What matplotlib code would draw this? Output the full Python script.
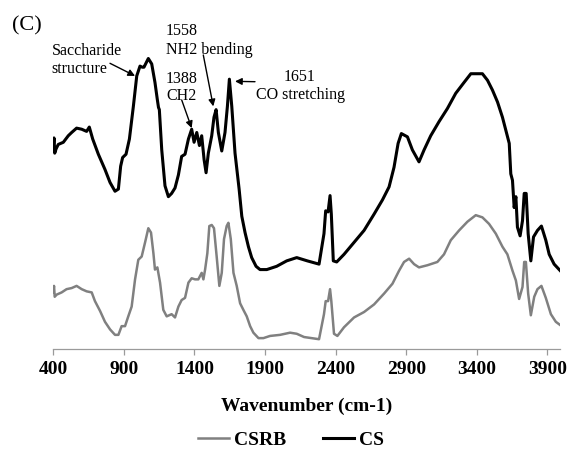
import matplotlib
matplotlib.use("Agg")
import matplotlib.pyplot as plt

plt.rcParams['font.family'] = ['Liberation Serif', 'DejaVu Serif']

# FTIR spectra (wavenumber in cm-1, intensity in arbitrary units)
cs_wn = [400, 405, 410, 420, 435, 471, 506, 530, 565, 601,
         636, 655, 679, 719, 766, 802, 837, 861, 877, 891,
         915, 939, 967, 991, 1014, 1030, 1042, 1073, 1097, 1120,
         1137, 1145, 1151, 1168, 1191, 1215, 1238, 1262, 1286, 1309,
         1333, 1357, 1380, 1397, 1416, 1435, 1451, 1468, 1482, 1498,
         1522, 1538, 1553, 1569, 1593, 1616, 1633, 1647, 1664, 1687,
         1716, 1735, 1758, 1782, 1805, 1836, 1864, 1912, 1982, 2053,
         2124, 2199, 2282, 2317, 2329, 2346, 2360, 2369, 2383, 2407,
         2459, 2530, 2601, 2672, 2731, 2778, 2813, 2842, 2865, 2908,
         2943, 2990, 3026, 3073, 3132, 3191, 3250, 3309, 3357, 3439,
         3475, 3510, 3546, 3581, 3605, 3629, 3640, 3652, 3664, 3676,
         3687, 3706, 3723, 3735, 3749, 3763, 3782, 3801, 3829, 3857,
         3888, 3912, 3947, 3990]
cs_t = [186, 194, 180, 184, 188, 190, 196, 199, 203, 202,
        200, 204, 193, 179, 165, 153, 145, 147, 168, 176,
        179, 193, 223, 251, 260, 259, 259, 267, 262, 245,
        229, 222, 220, 183, 150, 140, 143, 148, 160, 177,
        179, 193, 202, 190, 199, 187, 196, 174, 162, 180,
        196, 213, 220, 199, 182, 199, 223, 248, 223, 180,
        147, 122, 107, 94, 84, 76, 73, 73, 76, 81,
        84, 81, 78, 106, 127, 126, 141, 124, 81, 80,
        87, 98, 109, 124, 137, 149, 167, 189, 198, 195,
        183, 172, 183, 196, 209, 221, 235, 245, 253, 253,
        247, 238, 227, 213, 201, 189, 161, 155, 130, 140,
        112, 104, 118, 143, 143, 106, 81, 103, 109, 113,
        100, 87, 78, 72]

csrb_wn = [400, 405, 410, 424, 459, 494, 530, 565, 601, 636,
           672, 695, 731, 766, 802, 837, 861, 884, 908, 931,
           955, 979, 1002, 1026, 1050, 1073, 1092, 1109, 1120, 1137,
           1156, 1179, 1203, 1238, 1262, 1286, 1309, 1333, 1357, 1380,
           1404, 1427, 1451, 1463, 1475, 1491, 1505, 1522, 1538, 1557,
           1576, 1593, 1609, 1628, 1640, 1657, 1676, 1699, 1723, 1746,
           1770, 1794, 1817, 1853, 1888, 1935, 2006, 2077, 2124, 2176,
           2282, 2317, 2329, 2346, 2360, 2369, 2388, 2412, 2459, 2530,
           2601, 2672, 2743, 2802, 2849, 2884, 2920, 2955, 2990, 3050,
           3120, 3167, 3215, 3274, 3333, 3392, 3439, 3486, 3534, 3581,
           3616, 3652, 3676, 3699, 3723, 3735, 3747, 3763, 3782, 3806,
           3829, 3857, 3888, 3924, 3959, 3990]
csrb_t = [52, 58, 48, 50, 52, 55, 56, 58, 55, 53,
          52, 44, 35, 25, 18, 13, 13, 21, 21, 30,
          39, 64, 82, 85, 98, 111, 107, 88, 73, 75,
          61, 36, 30, 32, 29, 39, 45, 47, 61, 65,
          64, 64, 70, 64, 73, 88, 113, 114, 111, 85,
          58, 70, 101, 113, 116, 101, 70, 58, 42, 36,
          30, 21, 15, 10, 10, 12, 13, 15, 14, 11,
          9, 32, 44, 44, 55, 44, 14, 12, 20, 29,
          34, 41, 51, 60, 72, 80, 83, 78, 75, 77,
          80, 87, 100, 109, 117, 123, 121, 115, 106, 94,
          87, 72, 63, 46, 57, 80, 80, 51, 31, 48,
          55, 58, 47, 32, 25, 22]

xticks = [400, 900, 1400, 1900, 2400, 2900, 3400, 3900]

W, H = 569, 449


def fig_xy(x, y):
    # pixel position (from top-left) -> figure fraction
    return x / W, 1 - y / H


fig = plt.figure(figsize=(W / 100, H / 100), dpi=100)
ax = fig.add_axes([53.3 / W, (H - 349) / H, (559.5 - 53.3) / W, 309 / H])

ax.plot(csrb_wn, csrb_t, color='#808080', lw=1.8, label='CSRB')
ax.plot(cs_wn, cs_t, color='black', lw=2.2, label='CS')

ax.set_xlim(400, 3985)
ax.set_ylim(0, 284)
ax.set_xticks(xticks)
ax.set_yticks([])
for side in ['left', 'right', 'top']:
    ax.spines[side].set_visible(False)
ax.spines['bottom'].set_color('#9a9a9a')
ax.spines['bottom'].set_linewidth(0.9)
ax.tick_params(axis='x', direction='out', length=4, width=0.9, color='#9a9a9a',
               pad=5, labelsize=14)
for lab in ax.get_xticklabels():
    lab.set_fontweight('bold')
ax.set_xlabel('Wavenumber (cm-1)', fontsize=14, fontweight='bold', labelpad=14)

# peak annotations
ann = dict(fontsize=11.5, va='baseline')
fig.text(*fig_xy(12, 30), '(C)', fontsize=16, va='baseline')
fig.text(*fig_xy(51.7, 55), 'Saccharide', ha='left', **ann)
fig.text(*fig_xy(51.7, 73), 'structure', ha='left', **ann)
fig.text(*fig_xy(166, 35), '1558', ha='left', **ann)
fig.text(*fig_xy(166, 54), 'NH2 bending', ha='left', **ann)
fig.text(*fig_xy(166, 83), '1388', ha='left', **ann)
fig.text(*fig_xy(166, 100.5), 'CH2', ha='left', **ann)
fig.text(*fig_xy(300, 81), '1651', ha='center', **ann)
fig.text(*fig_xy(300, 99), 'CO stretching', ha='center', **ann)

arrow = dict(arrowstyle='-|>', color='black', lw=1.0, mutation_scale=10,
             shrinkA=0, shrinkB=0)
ax.annotate('', xy=(979, 251), xytext=fig_xy(110, 63.3),
            textcoords='figure fraction', arrowprops=arrow)
ax.annotate('', xy=(1533, 223), xytext=fig_xy(203.3, 55),
            textcoords='figure fraction', arrowprops=arrow)
ax.annotate('', xy=(1380, 203), xytext=fig_xy(181.7, 100),
            textcoords='figure fraction', arrowprops=arrow)
ax.annotate('', xy=(1687, 246), xytext=fig_xy(255, 81.7),
            textcoords='figure fraction', arrowprops=arrow)

fig.legend(loc='center', bbox_to_anchor=fig_xy(291, 440), ncol=2, frameon=False,
           prop={'weight': 'bold', 'size': 14}, handlelength=1.6,
           handletextpad=0.25, columnspacing=1.9)

fig.savefig('out.png', dpi=100)
